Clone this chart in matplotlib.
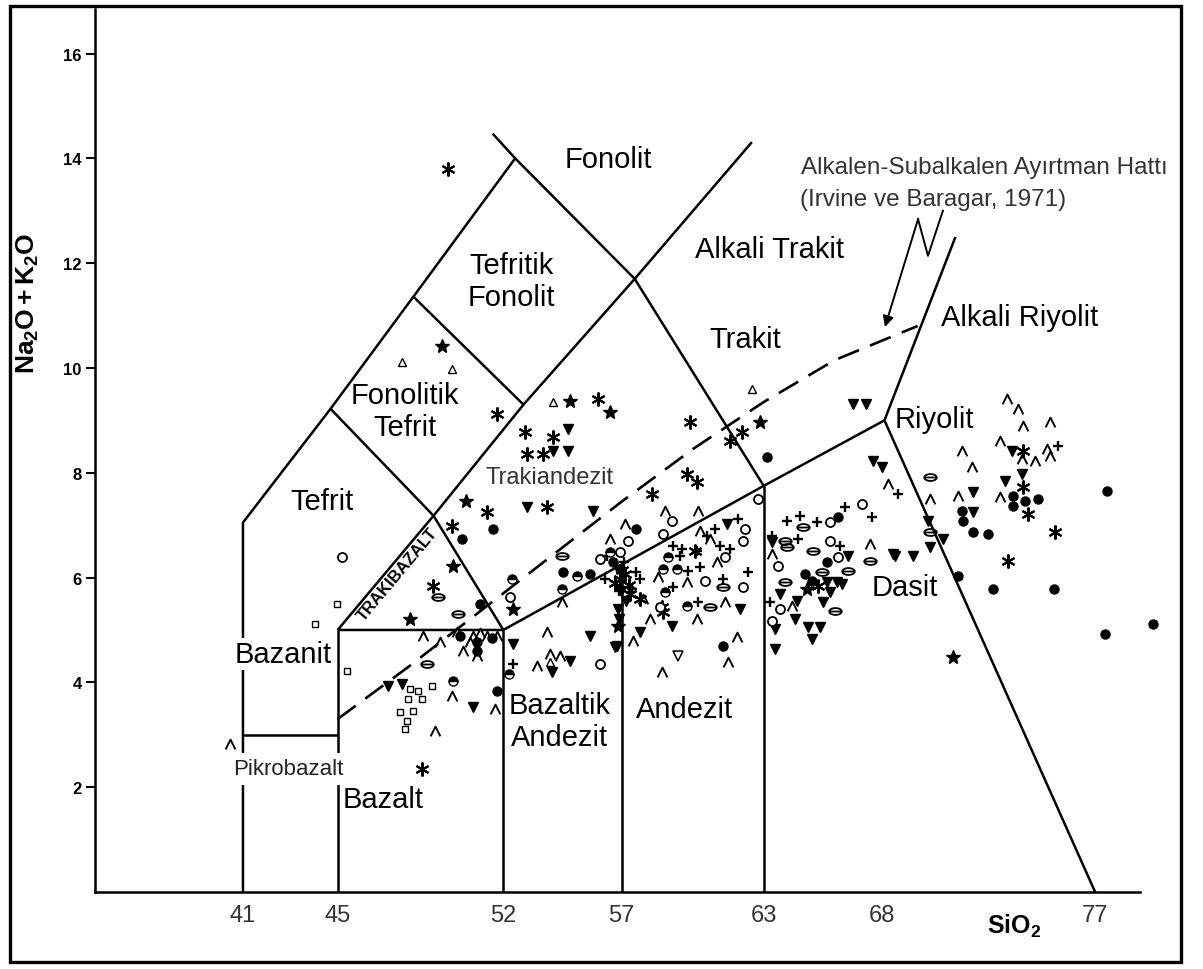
import matplotlib
matplotlib.use("Agg")
import matplotlib.pyplot as plt
from matplotlib.path import Path
from matplotlib.patches import Rectangle
import numpy as np

plt.rcParams['font.family'] = ['Liberation Sans', 'DejaVu Sans']
plt.rcParams['mathtext.fontset'] = 'custom'
plt.rcParams['mathtext.rm'] = 'Liberation Sans'
plt.rcParams['mathtext.bf'] = 'Liberation Sans:bold'
plt.rcParams['mathtext.it'] = 'Liberation Sans:italic'

# ---------------- classification field boundaries (SiO2, Na2O+K2O) ----------------
tefrit_outer = [(41, 0), (41, 7.05), (44.7, 9.22), (48.2, 11.36), (52.5, 14.0)]
fonolit_line = [(51.55, 14.47), (52.5, 14.0), (57.55, 11.7), (63, 7.75)]
alkali_line = [(62.5, 14.31), (57.55, 11.7), (52.85, 9.3), (49.05, 7.18), (45, 5.0)]
cross_a = [(44.7, 9.22), (49.05, 7.18)]
cross_b = [(48.2, 11.36), (52.85, 9.3)]
trakibazalt_edge = [(49.05, 7.18), (52, 5.0)]
lower_series = [(45, 5.0), (52, 5.0), (57, 6.25), (63, 7.75), (68.1, 9.0), (77, 0)]
riyolit_edge = [(68.1, 9.0), (71.1, 12.5)]
pikro_top = [(41, 3.0), (45, 3.0)]
verticals = [(45, 5.0), (52, 5.0), (57, 6.25), (63, 7.75)]

# Irvine & Baragar (1971) alkaline / subalkaline divide
ib_si = [45, 48, 51, 54, 57, 60, 63, 66, 69.5]
ib_alk = [3.3, 4.3, 5.35, 6.4, 7.45, 8.45, 9.35, 10.15, 10.8]

# ---------------- sample analyses, grouped by symbol ----------------
star_si = [54.81, 56.5, 50.42, 62.84, 49.41, 49.87, 48.06, 52.41, 56.84, 64.83, 71.0]
star_alk = [9.37, 9.16, 7.46, 8.97, 10.42, 6.22, 5.21, 5.4, 5.08, 5.78, 4.48]

ast_si = [49.66, 56.0, 51.73, 52.91, 54.1, 53.0, 53.67, 51.31, 49.83, 53.84, 58.28,
          59.76, 60.18, 59.88, 61.57, 62.08, 49.03, 60.1, 58.7, 65.29, 73.95, 73.95,
          74.16, 75.31, 73.32, 48.56, 57.14, 57.77, 58.74, 56.93, 57.35,
          57.0, 57.3, 56.7]
ast_alk = [13.8, 9.41, 9.12, 8.78, 8.68, 8.36, 8.36, 7.25, 6.98, 7.35, 7.6,
           7.98, 7.82, 8.97, 8.61, 8.78, 5.84, 6.51, 5.44, 5.84, 8.42, 7.73,
           7.21, 6.87, 6.32, 2.35, 6.07, 5.59, 5.34, 5.97, 5.69,
           6.15, 5.85, 5.9]

tri_si = [54.73, 54.1, 54.73, 53.0, 55.79, 52.41, 55.66, 56.8, 57.77, 54.81, 54.05,
          47.13, 47.72, 50.72, 61.45, 62.0, 59.12, 56.72, 56.84, 63.35, 66.56, 68.46,
          65.67, 66.1, 66.31, 65.8, 63.69, 64.41, 65.5, 63.48, 64.32, 64.87, 65.38,
          65.04, 63.48, 66.77, 67.32, 67.62, 68.0, 69.94, 70.57, 70.02, 68.55, 69.31,
          73.49, 73.19, 73.91, 71.84, 71.84, 56.95, 57.2, 56.9]
tri_alk = [8.84, 8.42, 8.42, 7.35, 7.27, 4.73, 4.89, 4.69, 4.96, 4.41, 4.2,
           3.93, 3.97, 3.53, 7.02, 5.4, 5.08, 4.68, 5.4, 6.68, 6.41, 6.45,
           5.92, 5.92, 5.88, 5.73, 5.69, 5.55, 5.53, 5.02, 5.21, 5.06, 5.06,
           4.83, 4.64, 9.31, 9.31, 8.23, 8.11, 7.08, 6.74, 6.58, 6.41, 6.41,
           8.42, 7.84, 7.98, 7.63, 7.25, 5.75, 5.55, 5.2]

ocirc_si = [45.18, 52.28, 56.08, 59.12, 57.27, 56.08, 56.93, 62.21, 62.12, 58.74, 61.36,
            60.52, 62.12, 58.62, 62.76, 65.8, 67.15, 65.8, 66.14, 63.6, 63.69, 63.35]
ocirc_alk = [6.39, 5.63, 4.35, 7.08, 6.7, 6.35, 6.49, 6.93, 6.7, 6.83, 6.39,
             5.94, 5.82, 5.44, 7.5, 7.06, 7.4, 6.7, 6.39, 6.22, 5.4, 5.17]

fcirc_si = [51.56, 50.25, 63.14, 56.63, 56.93, 51.01, 50.17, 51.73, 61.28, 66.14, 65.67,
            64.74, 65.04, 73.53, 74.04, 74.59, 73.53, 71.38, 71.42, 71.84, 72.47, 71.21,
            72.69, 75.26, 77.5, 77.42, 79.45, 57.6, 54.52, 55.66, 50.89, 50.9, 51.5]
fcirc_alk = [6.93, 6.74, 8.3, 6.3, 6.16, 5.5, 4.89, 3.84, 4.69, 7.16, 6.3,
             6.07, 5.94, 7.56, 7.46, 7.5, 7.37, 7.27, 7.08, 6.87, 6.83, 6.03,
             5.78, 5.78, 7.65, 4.92, 5.11, 6.93, 6.11, 6.07, 4.77, 4.6, 4.85]

plus_si = [52.41, 61.91, 59.17, 59.55, 60.18, 60.6, 60.94, 61.15, 61.57, 59.46, 59.8,
           60.31, 62.33, 61.28, 59.17, 60.22, 63.35, 64.45, 63.98, 64.53, 65.25, 66.43,
           67.57, 66.22, 63.26, 68.67, 75.43, 56.29, 57.77, 56.38, 57.43,
           57.1, 56.9, 57.6]
plus_alk = [4.35, 7.12, 6.6, 6.55, 6.51, 6.79, 6.93, 6.6, 6.55, 6.41, 6.13,
            6.2, 6.11, 5.97, 5.82, 5.53, 6.79, 6.74, 7.08, 7.18, 7.06, 7.35,
            7.16, 6.6, 5.53, 7.6, 8.51, 5.97, 5.97, 6.41, 5.78,
            6.3, 5.75, 6.1]

caret_si = [73.28, 73.74, 73.95, 75.09, 72.98, 73.91, 74.46, 74.97, 75.09, 71.38, 71.8,
            72.98, 71.21, 70.02, 68.25, 67.49, 64.19, 63.35, 58.83, 60.22, 60.31, 60.73,
            61.03, 58.53, 59.76, 61.36, 60.18, 57.48, 61.87, 61.49, 58.7, 57.14, 56.5,
            54.48, 53.84, 53.42, 53.97, 54.39, 48.6, 49.32, 50.04, 50.72, 51.31, 51.73,
            50.59, 50.89, 49.83, 51.65, 49.11, 40.45, 57.9, 58.2, 50.3, 51.0]
caret_alk = [9.41, 9.22, 8.89, 8.97, 8.61, 8.26, 8.23, 8.45, 8.32, 8.42, 8.11,
             7.54, 7.56, 7.5, 7.79, 6.64, 5.46, 6.45, 7.27, 7.27, 6.89, 6.74,
             6.3, 6.01, 5.92, 5.53, 5.21, 4.79, 4.87, 4.39, 4.2, 7.02, 6.74,
             5.53, 4.96, 4.31, 4.54, 4.5, 4.89, 4.77, 4.96, 4.89, 4.89, 4.89,
             4.77, 4.5, 3.74, 3.49, 3.07, 2.82, 5.6, 5.2, 4.6, 4.95]

oval_si = [54.48, 49.24, 50.08, 48.77, 61.28, 60.73, 63.9, 63.98, 64.66, 65.08, 67.49,
           65.46, 66.56, 63.9, 66.01, 70.02, 70.02]
oval_alk = [6.41, 5.63, 5.31, 4.35, 5.82, 5.44, 6.7, 6.58, 6.97, 6.51, 6.32,
            6.11, 6.13, 5.92, 5.36, 7.92, 6.87]

sq_si = [44.97, 44.04, 45.39, 48.06, 48.39, 48.56, 47.97, 47.63, 48.18, 47.93, 47.84, 48.98]
sq_alk = [5.5, 5.11, 4.22, 3.87, 3.84, 3.68, 3.68, 3.44, 3.45, 3.26, 3.11, 3.93]

otri_si = [47.72, 49.83, 54.1, 62.5, 53.97]
otri_alk = [10.11, 9.98, 9.35, 9.6, 4.39]

odtri_si = [59.38]
odtri_alk = [4.5]

half_si = [56.5, 55.11, 54.48, 52.36, 58.96, 58.74, 59.34, 58.83, 59.76, 49.87, 52.24]
half_alk = [6.49, 6.03, 5.78, 5.97, 6.39, 6.16, 6.16, 5.73, 5.46, 4.03, 4.16]

# ---------------- axis ticks ----------------
x_ticks = [41, 45, 52, 57, 63, 68, 77]
y_ticks = [2, 4, 6, 8, 10, 12, 14, 16]

# ---------------- figure ----------------
fig = plt.figure(figsize=(12.03, 9.70), dpi=100)
ax = fig.add_axes([0.079, 0.0794, 0.8687, 0.9103])
ax.set_xlim(34.75, 78.9)
ax.set_ylim(0, 16.85)

for s in ['top', 'right']:
    ax.spines[s].set_visible(False)
for s in ['left', 'bottom']:
    ax.spines[s].set_linewidth(1.8)

LW = 1.8


def poly(points, **kw):
    xs, ys = zip(*points)
    ax.plot(xs, ys, color='k', lw=LW, solid_capstyle='butt', zorder=2, **kw)


for p in [tefrit_outer, fonolit_line, alkali_line, cross_a, cross_b,
          trakibazalt_edge, lower_series, riyolit_edge, pikro_top]:
    poly(p)
for vx, vy in verticals:
    poly([(vx, 0), (vx, vy)])

ax.plot(ib_si, ib_alk, color='k', lw=1.9, ls=(0, (8.5, 4.5)), zorder=2)

# arrow pointing at the dashed divide
ax.annotate('', xy=(68.12, 10.78), xytext=(69.52, 12.84),
            arrowprops=dict(arrowstyle='-|>', lw=1.4, color='k', mutation_scale=16,
                            shrinkA=0, shrinkB=0), zorder=4)
ax.plot([69.52, 69.94, 70.57], [12.84, 12.14, 13.0], color='k', lw=1.4, zorder=4)

# ---------------- markers ----------------
caret = Path([(-1, -1), (0, 1), (1, -1)], [Path.MOVETO, Path.LINETO, Path.LINETO])
circ = Path.unit_circle()
oval_v = circ.vertices * np.array([1.0, 0.55])
oval = Path.make_compound_path(Path(oval_v, circ.codes),
                               Path([(-1, 0), (1, 0)], [Path.MOVETO, Path.LINETO]))

common = dict(ls='none', clip_on=False, zorder=3)
ax.plot(star_si, star_alk, marker='*', ms=10, mfc='k', mec='k', **common)
ax.plot(ast_si, ast_alk, marker=(6, 2, 0), ms=10, mec='k', mew=1.5, **common)
ax.plot(tri_si, tri_alk, marker='v', ms=7.5, mfc='k', mec='k', **common)
ax.plot(ocirc_si, ocirc_alk, marker='o', ms=6.5, mfc='white', mec='k', mew=1.3, **common)
ax.plot(fcirc_si, fcirc_alk, marker='o', ms=6.5, mfc='k', mec='k', **common)
ax.plot(plus_si, plus_alk, marker='+', ms=7.5, mec='k', mew=1.7, **common)
ax.plot(caret_si, caret_alk, marker=caret, ms=7, mfc='none', mec='k', mew=1.4, **common)
ax.plot(oval_si, oval_alk, marker=oval, ms=9, mfc='none', mec='k', mew=1.3, **common)
ax.plot(sq_si, sq_alk, marker='s', ms=5, mfc='white', mec='k', mew=1.0, **common)
ax.plot(otri_si, otri_alk, marker='^', ms=5.5, mfc='white', mec='k', mew=1.0, **common)
ax.plot(odtri_si, odtri_alk, marker='v', ms=6.5, mfc='white', mec='k', mew=1.1, **common)
ax.plot(half_si, half_alk, marker='o', ms=6.5, fillstyle='top', mfc='k',
        markerfacecoloralt='white', mec='k', mew=1.0, **common)

# ---------------- field names ----------------
big = dict(fontsize=21, ha='center', va='center', color='k', zorder=5)
ax.text(56.42, 13.99, 'Fonolit', **big)
ax.text(52.36, 11.66, 'Tefritik\nFonolit', linespacing=1.15, **big)
ax.text(63.26, 12.27, 'Alkali Trakit', **big)
ax.text(62.2, 10.55, 'Trakit', **big)
ax.text(73.83, 10.97, 'Alkali Riyolit', **big)
ax.text(70.23, 9.03, 'Riyolit', **big)
ax.text(47.84, 9.18, 'Fonolitik\nTefrit', linespacing=1.15, **big)
ax.text(44.34, 7.46, 'Tefrit', **big)
ax.text(42.69, 4.54, 'Bazanit',
        bbox=dict(facecolor='white', edgecolor='none', pad=1.5), **big)
ax.text(46.91, 1.77, 'Bazalt', **big)
ax.text(54.39, 3.26, 'Bazaltik\nAndezit', linespacing=1.15, **big)
ax.text(59.67, 3.49, 'Andezit', **big)
ax.text(68.97, 5.82, 'Dasit', **big)

ax.text(53.97, 7.92, 'Trakiandezit', fontsize=17, ha='center', va='center',
        color='#333333', zorder=5)
ax.text(42.9, 2.35, 'Pikrobazalt', fontsize=16, ha='center', va='center',
        color='#222222', zorder=5,
        bbox=dict(facecolor='white', edgecolor='none', pad=4))

# rotated field name along the trachybasalt edge
p0 = ax.transData.transform((45, 5.0))
p1 = ax.transData.transform((49.05, 7.18))
ang = np.degrees(np.arctan2(p1[1] - p0[1], p1[0] - p0[0]))
ax.text(47.55, 6.08, 'TRAKIBAZALT', fontsize=12, fontweight='bold', rotation=ang,
        rotation_mode='anchor', ha='center', va='center', zorder=5)

ax.text(64.57, 13.84, 'Alkalen-Subalkalen Ayırtman Hattı', fontsize=17.5,
        ha='left', va='center', color='#333333', zorder=5)
ax.text(64.53, 13.22, '(Irvine ve Baragar, 1971)', fontsize=17.5,
        ha='left', va='center', color='#333333', zorder=5)

# ---------------- axes decoration ----------------
ax.set_xticks(x_ticks)
ax.set_xticklabels([str(v) for v in x_ticks], fontsize=17, color='#333333')
ax.tick_params(axis='x', length=0, pad=9)
ax.set_yticks(y_ticks)
ax.set_yticklabels([str(v) for v in y_ticks], fontsize=12, fontweight='bold')
ax.tick_params(axis='y', length=6.5, width=1.5, pad=3)

ax.text(73.6, -0.63, r'$\mathbf{SiO_2}$', fontsize=18, ha='center', va='center',
        clip_on=False)
fig.text(28 / 1203, 1 - 303 / 970, r'$\mathbf{Na_2O+K_2O}$', fontsize=19,
         rotation=90, ha='center', va='center')

# outer frame
fig.patches.append(Rectangle((10 / 1203, 7 / 970), 1171 / 1203, 956 / 970,
                             transform=fig.transFigure, fill=False,
                             edgecolor='k', lw=2.4))

fig.savefig('out.png', dpi=100, facecolor='white')
